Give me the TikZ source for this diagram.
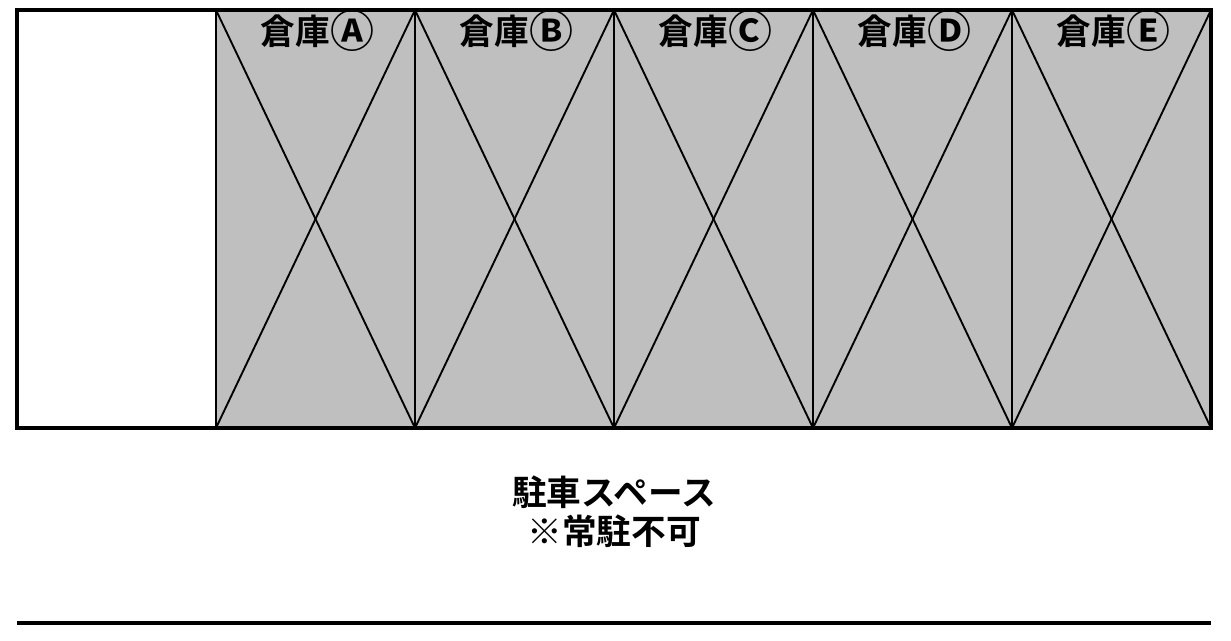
\documentclass[tikz,border=0pt]{standalone}
\usepackage{fontspec}
\newfontfamily\jp{Noto Sans CJK JP}[BoldFont=* Bold]
\newcommand\circl[1]{\raisebox{-2.5pt}{\fontsize{33}{30}\selectfont #1}}
\begin{document}
\begin{tikzpicture}[x=0.75pt,y=-0.75pt,
  outer/.style={draw=black,line width=2.4pt},
  bay/.style={fill=black!25,draw=black,line width=1.4pt},
  cross/.style={draw=black,line width=1.4pt},
  lbl/.style={font=\jp\bfseries\fontsize{26}{30}\selectfont,inner sep=0pt},
  park/.style={font=\jp\bfseries\fontsize{26}{29}\selectfont,align=center,inner sep=0pt}]
\useasboundingbox (0,0) rectangle (1231,641);
\fill[white] (0,0) rectangle (1231,641);
\foreach \i/\l in {0/Ⓐ,1/Ⓑ,2/Ⓒ,3/Ⓓ,4/Ⓔ}{
  \pgfmathsetmacro\xa{216+199*\i}
  \pgfmathsetmacro\xb{216+199*(\i+1)}
  \coordinate (tl\i) at (\xa,10);
  \coordinate (br\i) at (\xb,428);
  \coordinate (tr\i) at (\xb,10);
  \coordinate (bl\i) at (\xa,428);
  \path[bay] (tl\i) rectangle (br\i);
  \draw[cross] (tl\i) -- (br\i);
  \draw[cross] (tr\i) -- (bl\i);
  \node[lbl] (w\i) at ({(\xa+\xb)/2+2},31) {倉庫\circl{\l}};
}
\coordinate (o1) at (17,10);
\coordinate (o2) at (1211,428);
\draw[outer] (o1) rectangle (o2);
\node[park] (p) at (614,512) {駐車スペース\\※常駐不可};
\coordinate (l1) at (17,623);
\coordinate (l2) at (1211,623);
\draw[outer] (l1) -- (l2);
\end{tikzpicture}
\end{document}
